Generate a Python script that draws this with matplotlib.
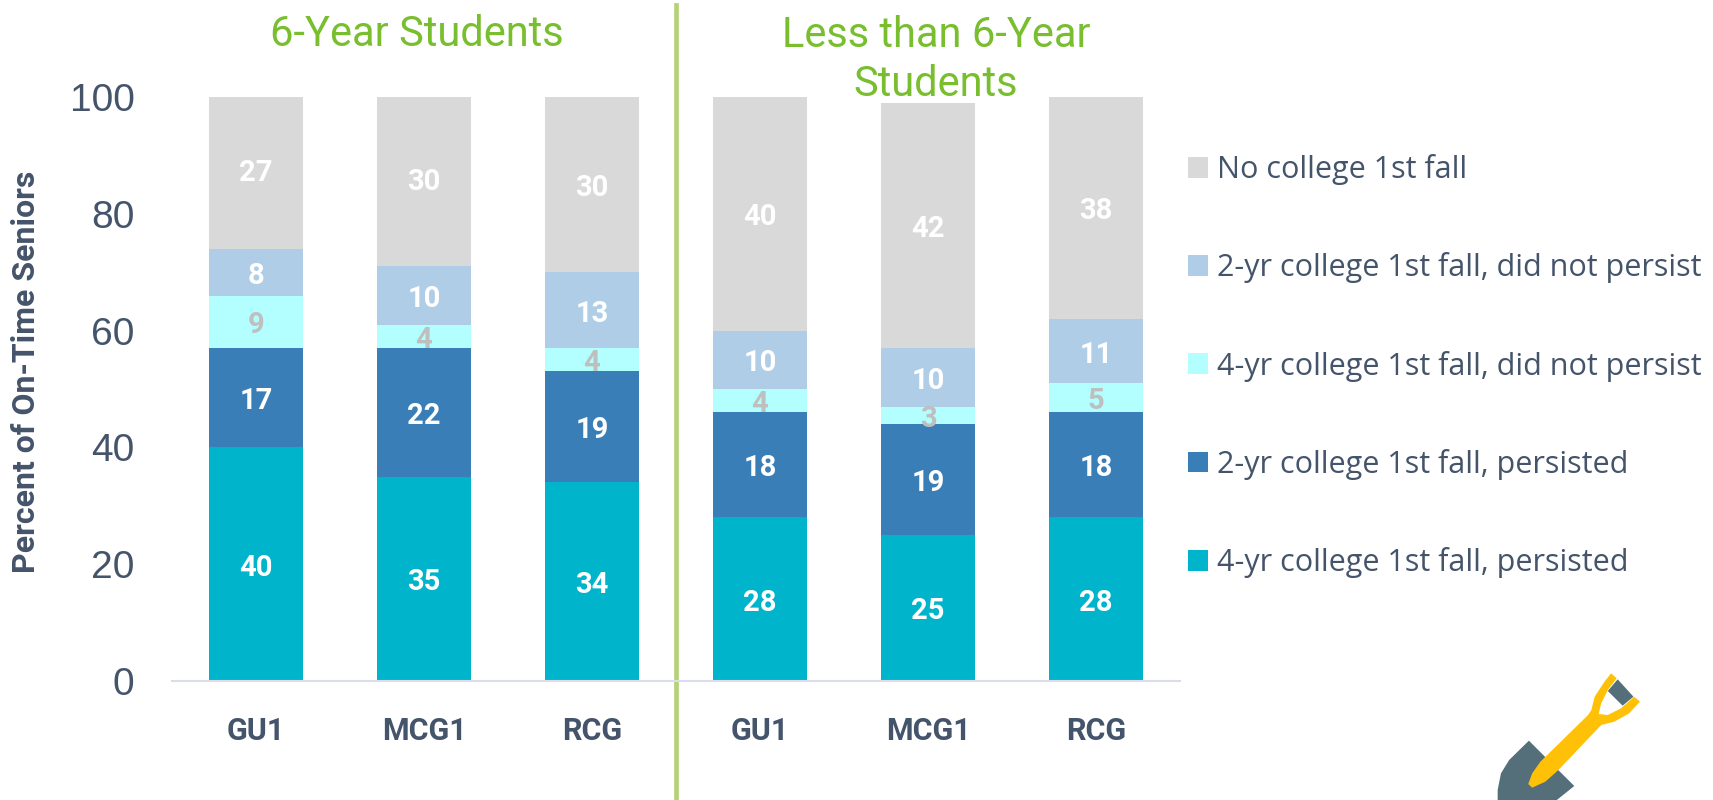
import numpy as np
import matplotlib
matplotlib.use("Agg")
import matplotlib.pyplot as plt
from matplotlib.patches import Polygon

categories = ["GU1", "MCG1", "RCG", "GU1", "MCG1", "RCG"]
persist_4yr = [40, 35, 34, 28, 25, 28]
persist_2yr = [17, 22, 19, 18, 19, 18]
nopersist_4yr = [9, 4, 4, 4, 3, 5]
nopersist_2yr = [8, 10, 13, 10, 10, 11]
no_college = [27, 30, 30, 40, 42, 38]

names = ["4-yr college 1st fall, persisted", "2-yr college 1st fall, persisted",
         "4-yr college 1st fall, did not persist", "2-yr college 1st fall, did not persist",
         "No college 1st fall"]
colors = ["#00B4CC", "#3A7EB8", "#B3FFFF", "#AFCDE7", "#D9D9D9"]
label_colors = ["white", "white", "#BFBFBF", "white", "white"]
series = [persist_4yr, persist_2yr, nopersist_4yr, nopersist_2yr, no_college]

W, H = 1713, 800
dark = "#44546A"
green = "#78BE2E"

fig = plt.figure(figsize=(W/100, H/100), dpi=100)
ax = fig.add_axes([172/W, 1-681/H, 1008/W, 584/H])

x = np.arange(len(categories))
bottom = np.zeros(len(categories))
for vals, name, col, lcol in zip(series, names, colors, label_colors):
    vals = np.array(vals)
    ax.bar(x, vals, 0.56, bottom=bottom, color=col, label=name)
    for xi, b, v in zip(x, bottom, vals):
        ax.annotate(str(v), (xi, b+v/2), xytext=(0, -2.5), textcoords="offset points",
                    color=lcol, ha="center", va="center",
                    fontsize=21, fontweight="bold", family="Roboto")
    bottom += vals

ax.set_xlim(-0.5, 5.5)
ax.set_ylim(0, 100)
ax.set_yticks([0, 20, 40, 60, 80, 100])
ax.set_xticks(x)
ax.set_xticklabels(categories, family="Roboto", fontweight="bold", fontsize=22, color=dark)
ax.tick_params(axis="y", length=0, pad=27, labelsize=28, labelcolor=dark)
ax.tick_params(axis="x", length=0, pad=25)
for t in ax.get_yticklabels():
    t.set_family("Liberation Sans")
for s in ["top", "left", "right"]:
    ax.spines[s].set_visible(False)
ax.spines["bottom"].set_color("#D9DEE8")
ax.spines["bottom"].set_linewidth(1.5)

# divider between the two groups
ax.axvline(2.5, ymin=-0.204, ymax=1.158, color="#B5D27A", lw=3.4, clip_on=False)

fig.text(26/W, 1-372/H, "Percent of On-Time Seniors", rotation=90, ha="center", va="center",
         family="Roboto", fontweight="bold", fontsize=23, color=dark)
fig.text(417/W, 1-35/H, "6-Year Students", ha="center", va="center",
         family="Roboto", fontsize=30, color=green)
fig.text(936/W, 1-60/H, "Less than 6-Year\nStudents", ha="center", va="center",
         family="Roboto", fontsize=30, color=green, linespacing=1.25)

fig.legend(loc="center left", bbox_to_anchor=(1188/W, 1-366/H), reverse=True, frameon=False,
           prop={"family": "Open Sans", "size": 22}, labelcolor=dark, labelspacing=2.2,
           handlelength=0.66, handleheight=0.66, handletextpad=0.3, borderpad=0, borderaxespad=0)

# shovel icon, bottom right corner
icon = fig.add_axes([1450/W, 0, 263/W, 160/H])
icon.set_xlim(0, 800)
icon.set_ylim(480, 0)
icon.axis("off")
blade = [(240, 302), (378, 438), (325, 480), (145, 480), (145, 450), (155, 400), (180, 360)]
handle = [(238, 432), (250, 400), (275, 365), (420, 225), (430, 210), (440, 170), (470, 125),
          (490, 100), (507, 115), (480, 150), (460, 190), (452, 222), (480, 225), (520, 205),
          (560, 170), (578, 185), (545, 220), (500, 245), (460, 255), (330, 390), (290, 425), (250, 443)]
grip = [(510, 118), (558, 170), (525, 197), (480, 153)]
icon.add_patch(Polygon(blade, color="#546E7A", lw=0))
icon.add_patch(Polygon(grip, color="#546E7A", lw=0))
icon.add_patch(Polygon(handle, color="#FFC107", lw=0))

fig.savefig("out.png", dpi=100)
